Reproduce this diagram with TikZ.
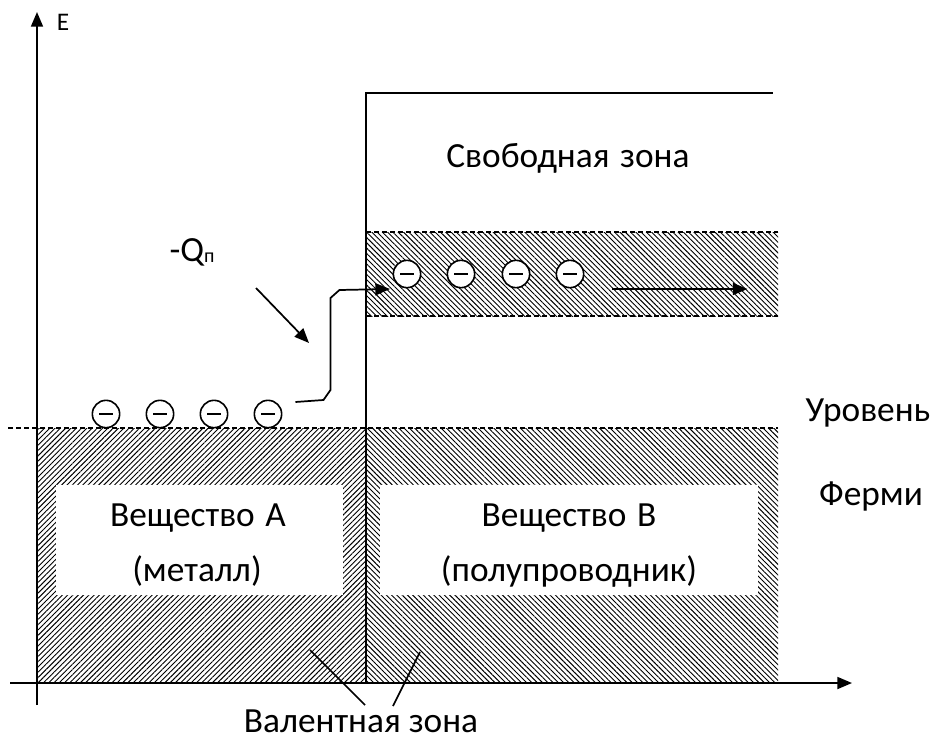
\documentclass[tikz,border=0pt]{standalone}
\usepackage{fontspec}
\setmainfont{Carlito}
\usetikzlibrary{patterns.meta,arrows.meta,calc}
\begin{document}
\begin{tikzpicture}[x=0.75pt,y=-0.75pt,
 ln/.style={line width=1.3pt},
 lab/.style={font=\fontsize{26.5}{30}\selectfont, inner sep=0pt},
 electron/.style={circle, draw, line width=1.2pt, fill=white, minimum size=20.5pt, inner sep=0pt,
   path picture={\draw[line width=1.3pt] ([xshift=-5pt]path picture bounding box.center) -- ([xshift=5pt]path picture bounding box.center);}},
 hatchA/.style={pattern={Lines[angle=45,distance=2.8pt,line width=0.7pt]}},
 hatchB/.style={pattern={Lines[angle=-45,distance=2.8pt,line width=0.7pt]}},
 dsh/.style={line width=1.1pt, dash pattern=on 3.5pt off 2.5pt},
 tip/.style={-{Triangle[length=11pt,width=9pt]}}]
\useasboundingbox (0,0) rectangle (942,742);
% hatched regions
\fill[hatchA] (37,428) rectangle (366,683);
\fill[hatchB] (366,428) rectangle (778,683);
\fill[hatchB] (366,232) rectangle (778,316);
\fill[white] (56,485) rectangle (343,595);
\fill[white] (380,485) rectangle (758,595);
\draw[dsh] (8,428) -- (778,428);
\draw[dsh] (366,232) -- (778,232);
\draw[dsh] (366,316) -- (778,316);
% boundary lines
\draw[ln] (366,683) -- (366,93) -- (773,93);
% axes
\draw[ln,tip] (37,705) -- (37,12);
\draw[ln,tip] (10,683) -- (852,683);
% labels
\node[font=\fontsize{19}{21}\selectfont, inner sep=0pt] (E) at (63,22) {E};
\node[lab] (free) at (568,158) {Свободная\hspace{2pt} зона};
\node[lab] (lev) at (868,413) {Уровень};
\node[lab] (fermi) at (871,496) {Ферми};
\node[lab] (subA) at (198,518) {Вещество\hspace{2pt} А};
\node[lab] (metA) at (197,571) {(металл)};
\node[lab] (subB) at (569,518) {Вещество\hspace{2pt} В};
\node[lab] (semB) at (569,571) {(полупроводник)};
\node[lab] (val) at (361,721) {Валентная зона};
\node[lab] (Q) at (192,252) {-Q\raisebox{-1pt}{\fontsize{15}{15}\selectfont п}};
% electrons
\foreach \x/\n in {106/1,160/2,214/3,268/4} \node[electron] (m\n) at (\x,414) {};
\foreach \x/\n in {407/1,461/2,516/3,570/4} \node[electron] (b\n) at (\x,274) {};
% transfer path
\draw[ln,tip] ($(m4.east)+(13,-12)$) -- ++(28,-2) -- ++(7,-10) -- ++(0,-92) -- ++(9,-8) -- ($(b1.center)+(-17,15)$);
% charge arrow
\coordinate (qa) at (256,288);
\coordinate (qb) at (309,343);
\draw[ln,tip] (qa) -- (qb);
% drift arrow
\draw[ln,tip] ($(b4.east)+(28,15)$) -- ++(135,0);
% valence pointers
\coordinate (va) at (310,650);
\coordinate (vb) at (420,652);
\coordinate (vc) at (365,705);
\coordinate (vd) at (393,706);
\draw[ln] (va) -- (vc);
\draw[ln] (vb) -- (vd);
\end{tikzpicture}
\end{document}
